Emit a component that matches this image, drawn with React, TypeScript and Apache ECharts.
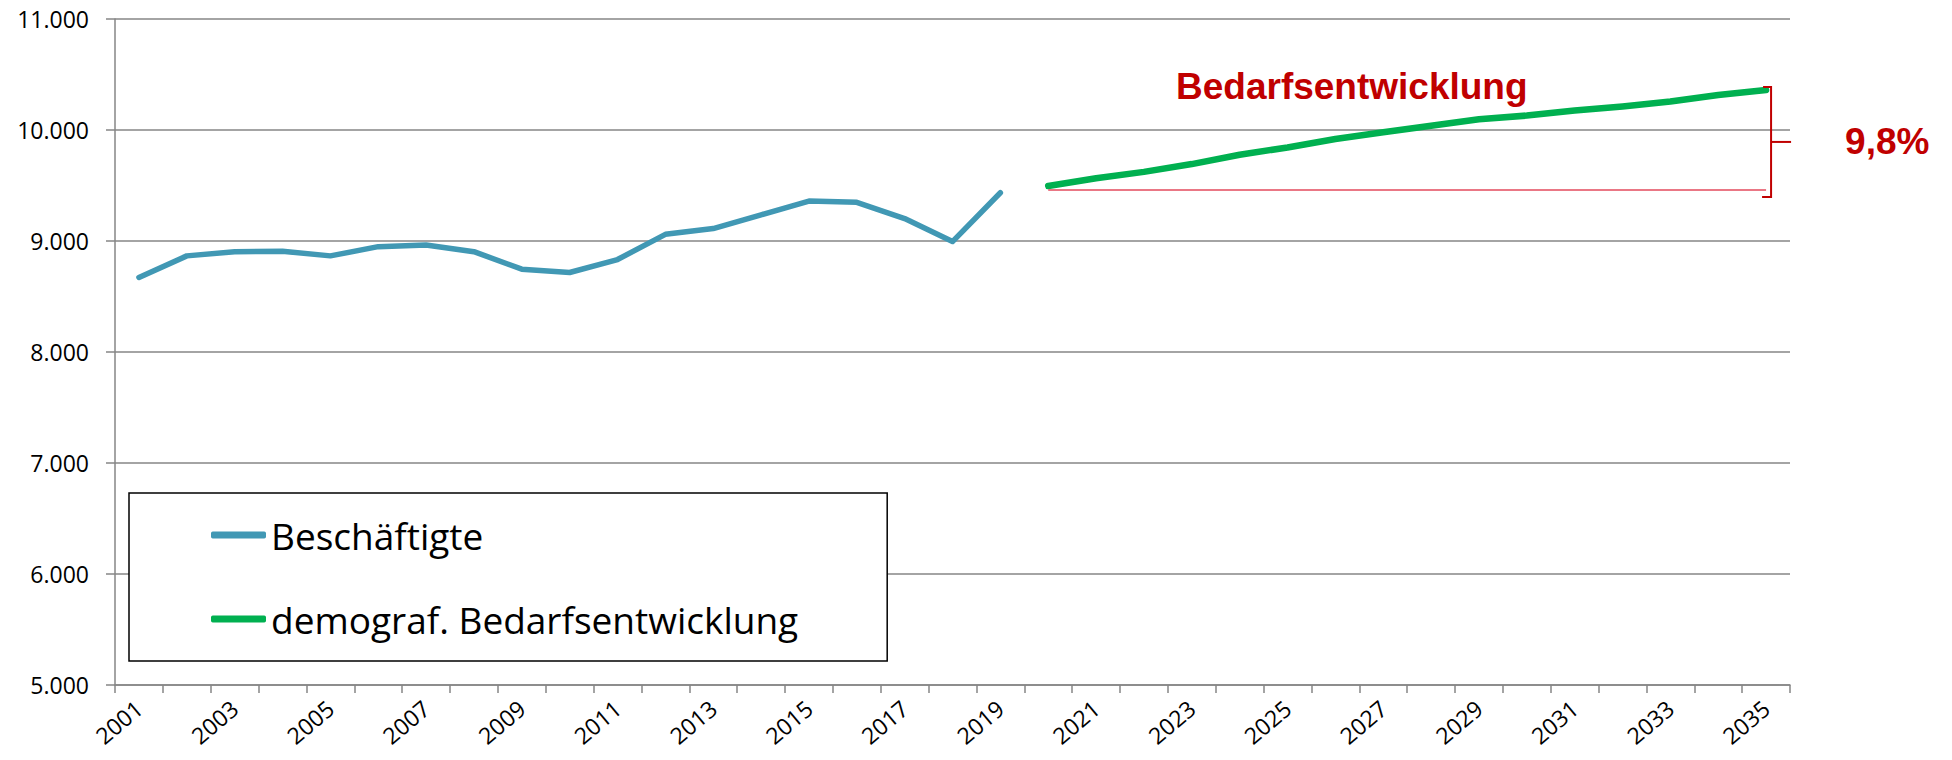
import React, { useEffect, useRef } from "react";
import * as echarts from "echarts";

const years = [
  "2001", "2002", "2003", "2004", "2005", "2006", "2007", "2008", "2009", "2010",
  "2011", "2012", "2013", "2014", "2015", "2016", "2017", "2018", "2019", "2020",
  "2021", "2022", "2023", "2024", "2025", "2026", "2027", "2028", "2029", "2030",
  "2031", "2032", "2033", "2034", "2035",
];

// Beschäftigte 2001–2019
const employed = [
  8672, 8866, 8904, 8907, 8866, 8949, 8964, 8904, 8746, 8716,
  8833, 9060, 9112, 9236, 9360, 9348, 9202, 8995, 9435,
];

// demograf. Bedarfsentwicklung 2020–2035
const demand = [
  9495, 9566, 9623, 9693, 9777, 9843, 9919, 9979, 10039, 10096,
  10130, 10175, 10211, 10256, 10316, 10361,
];

const baseValue = 9460;
const seriesNames = ["Beschäftigte", "demograf. Bedarfsentwicklung"];
const annotationTitle = "Bedarfsentwicklung";
const growthLabel = "9,8%";

const yMin = 5000;
const yMax = 11000;
const yInterval = 1000;

const BLUE = "#4198b4";
const GREEN = "#00b050";
const DARKRED = "#c00000";
const GRID = "#868686";
const FONT = "'Open Sans', 'Noto Sans', sans-serif";
const BOLD_FONT = "'Liberation Sans', Arial, sans-serif";

export default function App() {
  const ref = useRef<HTMLDivElement>(null);

  useEffect(() => {
    if (!ref.current) return;
    const chart = echarts.init(ref.current, null, { renderer: "svg" });

    const blueData = years.map((_, i) => (i < employed.length ? employed[i] : null));
    const greenData = years.map((_, i) => {
      const j = i - employed.length;
      return j >= 0 && j < demand.length ? demand[j] : null;
    });
    const firstDemandYear = years[employed.length];
    const lastYear = years[years.length - 1];

    chart.setOption({
      animation: false,
      backgroundColor: "#ffffff",
      grid: {
        left: 115,
        right: 162,
        top: 19,
        bottom: 75,
        containLabel: false,
        outerBoundsMode: "none",
      },
      xAxis: {
        type: "category",
        data: years,
        boundaryGap: true,
        axisLine: { show: true, lineStyle: { color: GRID, width: 1.5 } },
        axisTick: {
          show: true,
          interval: 0,
          length: 8,
          lineStyle: { color: GRID, width: 1.5 },
        },
        axisLabel: {
          interval: 1,
          rotate: 40,
          margin: 20,
          fontSize: 23,
          fontFamily: FONT,
          color: "#000",
        },
        splitLine: { show: false },
      },
      yAxis: {
        type: "value",
        min: yMin,
        max: yMax,
        interval: yInterval,
        axisLine: { show: true, lineStyle: { color: GRID, width: 1.5 } },
        axisTick: { show: true, length: 9, lineStyle: { color: GRID, width: 1.5 } },
        axisLabel: {
          margin: 26,
          fontSize: 23,
          fontFamily: FONT,
          color: "#000",
          formatter: (v: number) => v.toLocaleString("de-DE"),
        },
        splitLine: { show: true, lineStyle: { color: GRID, width: 1.5 } },
      },
      legend: {
        show: true,
        orient: "vertical",
        left: 129,
        top: 493,
        padding: [20, 89, 20, 82],
        itemGap: 40,
        itemWidth: 55,
        itemHeight: 7,
        icon: "roundRect",
        borderColor: "#000",
        borderWidth: 1.5,
        backgroundColor: "#ffffff",
        textStyle: {
          fontSize: 37,
          fontFamily: FONT,
          color: "#000",
          lineHeight: 44,
        },
        data: seriesNames,
      },
      series: [
        {
          name: seriesNames[0],
          type: "line",
          data: blueData,
          color: BLUE,
          symbol: "none",
          connectNulls: false,
          lineStyle: { width: 5.5, color: BLUE, cap: "round", join: "round" },
        },
        {
          name: seriesNames[1],
          type: "line",
          data: greenData,
          color: GREEN,
          symbol: "none",
          connectNulls: false,
          lineStyle: { width: 6.5, color: GREEN, cap: "round", join: "round" },
          markLine: {
            silent: true,
            symbol: "none",
            label: { show: false },
            lineStyle: { color: "#e34a5c", width: 1.5, type: "solid" },
            data: [[{ coord: [firstDemandYear, baseValue] }, { coord: [lastYear, baseValue] }]],
          },
          z: 3,
        },
      ],
    });

    const pEnd = chart.convertToPixel({ gridIndex: 0 }, [lastYear, demand[demand.length - 1]]) as number[];
    const pBase = chart.convertToPixel({ gridIndex: 0 }, [lastYear, baseValue]) as number[];
    const bx = pEnd[0] + 5;
    const top = pEnd[1] - 3;
    const bottom = pBase[1] + 7;
    const mid = (top + bottom) / 2;

    chart.setOption({
      graphic: [
        {
          type: "polyline",
          silent: true,
          shape: { points: [[bx - 8, top], [bx, top], [bx, bottom], [bx - 9, bottom]] },
          style: { stroke: DARKRED, lineWidth: 2, fill: null },
          z: 10,
        },
        {
          type: "line",
          silent: true,
          shape: { x1: bx, y1: mid, x2: bx + 20, y2: mid },
          style: { stroke: DARKRED, lineWidth: 2 },
          z: 10,
        },
        {
          type: "text",
          silent: true,
          x: bx + 74,
          y: mid,
          style: {
            text: growthLabel,
            fill: DARKRED,
            font: `bold 37px ${BOLD_FONT}`,
            textAlign: "left",
            textVerticalAlign: "middle",
          },
          z: 10,
        },
        {
          type: "text",
          silent: true,
          x: 1176,
          y: 86,
          style: {
            text: annotationTitle,
            fill: DARKRED,
            font: `bold 37px ${BOLD_FONT}`,
            textAlign: "left",
            textVerticalAlign: "middle",
          },
          z: 10,
        },
      ],
    });

    return () => {
      chart.dispose();
    };
  }, []);

  return (
    <div
      ref={ref}
      style={{
        position: "fixed",
        left: 0,
        top: 0,
        width: 1952,
        height: 760,
        background: "#ffffff",
      }}
    />
  );
}
